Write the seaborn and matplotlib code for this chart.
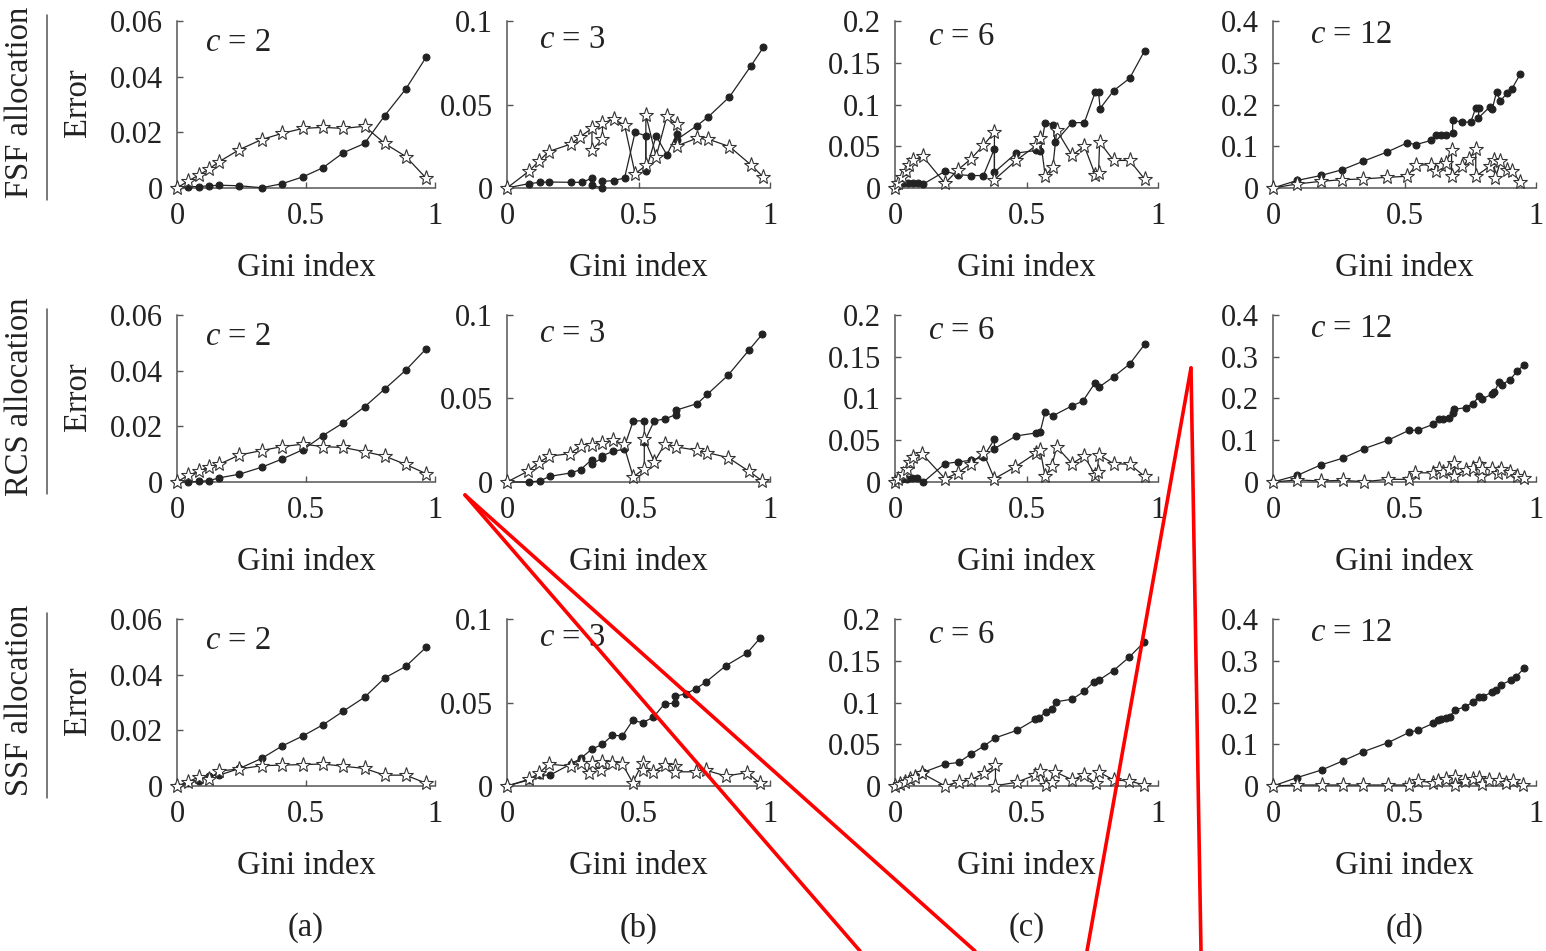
import matplotlib
matplotlib.use('Agg')
import matplotlib.pyplot as plt
from matplotlib.lines import Line2D
from matplotlib.ticker import FuncFormatter
import pandas as pd
import seaborn as sns

# ---- data (Gini index vs error) ----
GINI_C2 = [0, 0.043, 0.086, 0.125, 0.164, 0.242, 0.328, 0.406, 0.488, 0.566, 0.645, 0.727, 0.805, 0.887, 0.965]

fsf2_dot_y = [0, 0.0005, 0.0005, 0.0008, 0.001, 0.0008, 0.0001, 0.0015, 0.004, 0.0073, 0.0127, 0.016, 0.026, 0.0356, 0.0469]
fsf2_star_y = [0, 0.0025, 0.0047, 0.0069, 0.0095, 0.0138, 0.0174, 0.0196, 0.0214, 0.0218, 0.0214, 0.0222, 0.016, 0.0113, 0.0036]
rcs2_dot_y = [0, 0, 0.0002, 0.0005, 0.0015, 0.0028, 0.0053, 0.0082, 0.0116, 0.0167, 0.0213, 0.027, 0.0334, 0.0402, 0.0478]
rcs2_star_y = [0, 0.0024, 0.0039, 0.0055, 0.0064, 0.0097, 0.0113, 0.0127, 0.0136, 0.0127, 0.0124, 0.0109, 0.0093, 0.0063, 0.003]
ssf2_dot_y = [0, 0.001, 0.0019, 0.0037, 0.0039, 0.0063, 0.0099, 0.0143, 0.018, 0.022, 0.0269, 0.0319, 0.0388, 0.043, 0.0498]
ssf2_star_y = [0, 0.0015, 0.0033, 0.0025, 0.0054, 0.0061, 0.0073, 0.0075, 0.0077, 0.0079, 0.0071, 0.0063, 0.0039, 0.0039, 0.001]

fsf3_dot_x = [0, 0.082, 0.127, 0.158, 0.244, 0.285, 0.325, 0.325, 0.363, 0.363, 0.405, 0.447, 0.487, 0.528, 0.528, 0.567, 0.608, 0.646, 0.646, 0.722, 0.766, 0.846, 0.927, 0.975]
fsf3_dot_y = [0, 0.0026, 0.0034, 0.0036, 0.0034, 0.0034, 0.006, 0.0015, 0.0, 0.004, 0.0044, 0.006, 0.0333, 0.0313, 0.0103, 0.0311, 0.0198, 0.0323, 0.029, 0.0373, 0.0427, 0.0546, 0.073, 0.0843]
fsf3_star_x = [0, 0.082, 0.123, 0.158, 0.244, 0.278, 0.323, 0.323, 0.363, 0.363, 0.405, 0.447, 0.487, 0.528, 0.528, 0.567, 0.608, 0.646, 0.646, 0.722, 0.766, 0.846, 0.927, 0.975]
fsf3_star_y = [0, 0.0099, 0.0163, 0.0218, 0.0264, 0.0307, 0.0357, 0.0228, 0.0292, 0.0387, 0.0413, 0.0377, 0.0085, 0.0135, 0.0437, 0.0188, 0.043, 0.0383, 0.0252, 0.0298, 0.0292, 0.0248, 0.0139, 0.0065]
rcs3_dot_x = [0, 0.083, 0.124, 0.163, 0.242, 0.28, 0.322, 0.322, 0.363, 0.363, 0.404, 0.443, 0.48, 0.522, 0.522, 0.56, 0.601, 0.643, 0.643, 0.724, 0.761, 0.841, 0.92, 0.971]
rcs3_dot_y = [0, 0, 0.0006, 0.0034, 0.0054, 0.0074, 0.0134, 0.0106, 0.0145, 0.0158, 0.0184, 0.0196, 0.0366, 0.0366, 0.024, 0.0366, 0.0378, 0.0404, 0.043, 0.047, 0.0524, 0.064, 0.079, 0.0886]
rcs3_star_x = [0, 0.079, 0.121, 0.159, 0.239, 0.28, 0.322, 0.363, 0.404, 0.443, 0.48, 0.522, 0.522, 0.56, 0.601, 0.643, 0.724, 0.761, 0.841, 0.92, 0.971]
rcs3_star_y = [0, 0.0064, 0.0116, 0.0154, 0.017, 0.0214, 0.0224, 0.0234, 0.025, 0.0226, 0.003, 0.008, 0.026, 0.012, 0.023, 0.021, 0.019, 0.0176, 0.0146, 0.0064, 0.0006]
ssf3_dot_x = [0, 0.083, 0.124, 0.163, 0.242, 0.28, 0.322, 0.363, 0.401, 0.439, 0.478, 0.516, 0.557, 0.599, 0.637, 0.637, 0.679, 0.717, 0.755, 0.832, 0.913, 0.962]
ssf3_dot_y = [0, 0.0036, 0.0065, 0.0065, 0.0131, 0.0165, 0.022, 0.025, 0.0304, 0.03, 0.0393, 0.0379, 0.0413, 0.0492, 0.0496, 0.0536, 0.0552, 0.0581, 0.0621, 0.072, 0.0796, 0.0885]
ssf3_star_x = [0, 0.083, 0.121, 0.159, 0.242, 0.28, 0.312, 0.325, 0.357, 0.363, 0.401, 0.439, 0.478, 0.516, 0.516, 0.557, 0.599, 0.637, 0.637, 0.717, 0.755, 0.832, 0.913, 0.962]
ssf3_star_y = [0, 0.004, 0.0075, 0.0131, 0.0119, 0.0135, 0.0075, 0.0135, 0.0095, 0.0145, 0.0135, 0.0131, 0.002, 0.0139, 0.0095, 0.0085, 0.0125, 0.0119, 0.0085, 0.0085, 0.0095, 0.006, 0.008, 0.0016]

fsf6_dot_x = [0, 0.013, 0.032, 0.051, 0.07, 0.089, 0.108, 0.19, 0.239, 0.289, 0.336, 0.378, 0.378, 0.461, 0.537, 0.552, 0.571, 0.6, 0.609, 0.673, 0.72, 0.761, 0.774, 0.78, 0.831, 0.892, 0.949]
fsf6_dot_y = [0, 0.0028, 0.0056, 0.0056, 0.0056, 0.0056, 0.0048, 0.02, 0.016, 0.0149, 0.0149, 0.047, 0.0189, 0.0418, 0.045, 0.0442, 0.078, 0.076, 0.055, 0.0783, 0.0783, 0.1145, 0.1145, 0.0952, 0.1165, 0.1313, 0.1643]
fsf6_star_x = [0, 0.01, 0.025, 0.041, 0.055, 0.07, 0.105, 0.19, 0.239, 0.289, 0.336, 0.378, 0.378, 0.461, 0.537, 0.552, 0.571, 0.6, 0.615, 0.673, 0.72, 0.761, 0.774, 0.778, 0.831, 0.892, 0.949]
fsf6_star_y = [0, 0.0056, 0.0137, 0.0209, 0.027, 0.033, 0.0382, 0.0056, 0.0217, 0.035, 0.051, 0.0671, 0.01, 0.033, 0.051, 0.0602, 0.0149, 0.0249, 0.0691, 0.039, 0.0502, 0.016, 0.0177, 0.055, 0.033, 0.033, 0.0108]
rcs6_dot_x = [0, 0.013, 0.025, 0.044, 0.063, 0.082, 0.108, 0.19, 0.239, 0.289, 0.336, 0.378, 0.378, 0.461, 0.537, 0.552, 0.571, 0.6, 0.673, 0.714, 0.761, 0.774, 0.831, 0.892, 0.949]
rcs6_dot_y = [0, 0.002, 0.0032, 0.004, 0.0052, 0.0052, 0, 0.022, 0.024, 0.026, 0.03, 0.0512, 0.04, 0.0552, 0.0588, 0.06, 0.084, 0.0792, 0.0912, 0.0968, 0.1188, 0.1132, 0.126, 0.1412, 0.1648]
rcs6_star_x = [0, 0.013, 0.029, 0.044, 0.057, 0.07, 0.102, 0.19, 0.239, 0.289, 0.336, 0.378, 0.457, 0.537, 0.552, 0.571, 0.596, 0.615, 0.673, 0.72, 0.761, 0.77, 0.774, 0.831, 0.892, 0.949]
rcs6_star_y = [0, 0.004, 0.01, 0.016, 0.024, 0.03, 0.034, 0.004, 0.0108, 0.022, 0.0348, 0.004, 0.018, 0.0348, 0.038, 0.0068, 0.0192, 0.042, 0.022, 0.0312, 0.008, 0.012, 0.0328, 0.022, 0.0212, 0.0068]
ssf6_dot_x = [0, 0.013, 0.025, 0.038, 0.057, 0.076, 0.095, 0.108, 0.191, 0.242, 0.289, 0.337, 0.382, 0.462, 0.534, 0.547, 0.573, 0.598, 0.611, 0.674, 0.719, 0.757, 0.776, 0.831, 0.891, 0.948]
ssf6_dot_y = [0, 0.0012, 0.0032, 0.0052, 0.008, 0.0113, 0.0145, 0.0165, 0.0262, 0.0282, 0.0383, 0.0476, 0.0577, 0.0665, 0.0798, 0.081, 0.0891, 0.0927, 0.1008, 0.104, 0.1133, 0.125, 0.127, 0.1383, 0.1544, 0.1726]
ssf6_star_x = [0, 0.019, 0.038, 0.057, 0.076, 0.102, 0.191, 0.242, 0.289, 0.337, 0.382, 0.382, 0.462, 0.534, 0.551, 0.573, 0.598, 0.607, 0.674, 0.719, 0.763, 0.776, 0.831, 0.891, 0.948]
ssf6_star_y = [0, 0.002, 0.0052, 0.008, 0.0113, 0.0153, 0, 0.0052, 0.0073, 0.0153, 0.0246, 0.0004, 0.0044, 0.0133, 0.0181, 0.0012, 0.0052, 0.0173, 0.0073, 0.0133, 0.0032, 0.0165, 0.0073, 0.006, 0.0012]

fsf12_dot_x = [0, 0.091, 0.183, 0.264, 0.343, 0.433, 0.51, 0.544, 0.601, 0.62, 0.639, 0.657, 0.683, 0.683, 0.72, 0.752, 0.771, 0.783, 0.781, 0.824, 0.834, 0.85, 0.865, 0.89, 0.909, 0.941]
fsf12_dot_y = [0, 0.018, 0.03, 0.044, 0.064, 0.086, 0.108, 0.104, 0.114, 0.128, 0.126, 0.126, 0.132, 0.162, 0.158, 0.158, 0.192, 0.192, 0.168, 0.194, 0.19, 0.23, 0.208, 0.228, 0.238, 0.274]
fsf12_star_x = [0, 0.091, 0.183, 0.264, 0.343, 0.433, 0.51, 0.544, 0.601, 0.62, 0.639, 0.657, 0.679, 0.679, 0.72, 0.746, 0.771, 0.771, 0.824, 0.84, 0.846, 0.865, 0.89, 0.909, 0.941]
fsf12_star_y = [0, 0.0096, 0.016, 0.02, 0.0216, 0.0256, 0.028, 0.0544, 0.056, 0.04, 0.0544, 0.06, 0.0904, 0.028, 0.052, 0.0696, 0.0936, 0.028, 0.052, 0.068, 0.024, 0.064, 0.0424, 0.04, 0.0136]
rcs12_dot_x = [0, 0.093, 0.182, 0.265, 0.347, 0.437, 0.518, 0.55, 0.609, 0.631, 0.647, 0.669, 0.685, 0.688, 0.732, 0.762, 0.783, 0.796, 0.831, 0.841, 0.86, 0.869, 0.902, 0.927, 0.955]
rcs12_dot_y = [0, 0.016, 0.041, 0.057, 0.08, 0.1, 0.124, 0.124, 0.138, 0.15, 0.151, 0.154, 0.166, 0.174, 0.178, 0.188, 0.206, 0.199, 0.21, 0.215, 0.239, 0.233, 0.245, 0.265, 0.281]
rcs12_star_x = [0, 0.093, 0.182, 0.265, 0.347, 0.437, 0.518, 0.541, 0.609, 0.631, 0.647, 0.669, 0.688, 0.688, 0.732, 0.762, 0.783, 0.79, 0.796, 0.831, 0.854, 0.866, 0.902, 0.927, 0.955]
rcs12_star_y = [0, 0.005, 0.0024, 0.004, 0.0008, 0.0064, 0.0064, 0.022, 0.022, 0.03, 0.024, 0.032, 0.046, 0.014, 0.029, 0.033, 0.042, 0.014, 0.03, 0.032, 0.021, 0.032, 0.024, 0.014, 0.01]
ssf12_dot_x = [0, 0.091, 0.186, 0.265, 0.343, 0.438, 0.518, 0.552, 0.609, 0.628, 0.64, 0.657, 0.672, 0.691, 0.729, 0.76, 0.785, 0.798, 0.833, 0.848, 0.867, 0.905, 0.924, 0.956]
ssf12_dot_y = [0, 0.02, 0.0386, 0.06, 0.082, 0.104, 0.1285, 0.134, 0.15, 0.157, 0.161, 0.163, 0.166, 0.182, 0.189, 0.201, 0.214, 0.214, 0.225, 0.231, 0.243, 0.253, 0.261, 0.2835]
ssf12_star_x = [0, 0.091, 0.186, 0.265, 0.343, 0.438, 0.518, 0.552, 0.609, 0.628, 0.659, 0.691, 0.691, 0.729, 0.76, 0.783, 0.795, 0.823, 0.861, 0.886, 0.912, 0.949]
ssf12_star_y = [0, 0.0024, 0.0024, 0.0024, 0.0024, 0.0024, 0.0024, 0.012, 0.008, 0.012, 0.016, 0.0217, 0.0024, 0.012, 0.016, 0.02, 0.0056, 0.0137, 0.0137, 0.008, 0.012, 0.0024]

ROWS = ['FSF allocation', 'RCS allocation', 'SSF allocation']
C_VALUES = [2, 3, 6, 12]
PANEL_LABELS = ['(a)', '(b)', '(c)', '(d)']
YTICKS = [[0, 0.02, 0.04, 0.06], [0, 0.05, 0.1], [0, 0.05, 0.1, 0.15, 0.2], [0, 0.1, 0.2, 0.3, 0.4]]

# (dot_x, dot_y, star_x, star_y) per row, per column
PANELS = [
    [(GINI_C2, fsf2_dot_y, GINI_C2, fsf2_star_y), (fsf3_dot_x, fsf3_dot_y, fsf3_star_x, fsf3_star_y),
     (fsf6_dot_x, fsf6_dot_y, fsf6_star_x, fsf6_star_y), (fsf12_dot_x, fsf12_dot_y, fsf12_star_x, fsf12_star_y)],
    [(GINI_C2, rcs2_dot_y, GINI_C2, rcs2_star_y), (rcs3_dot_x, rcs3_dot_y, rcs3_star_x, rcs3_star_y),
     (rcs6_dot_x, rcs6_dot_y, rcs6_star_x, rcs6_star_y), (rcs12_dot_x, rcs12_dot_y, rcs12_star_x, rcs12_star_y)],
    [(GINI_C2, ssf2_dot_y, GINI_C2, ssf2_star_y), (ssf3_dot_x, ssf3_dot_y, ssf3_star_x, ssf3_star_y),
     (ssf6_dot_x, ssf6_dot_y, ssf6_star_x, ssf6_star_y), (ssf12_dot_x, ssf12_dot_y, ssf12_star_x, ssf12_star_y)],
]

# ---- style ----
sns.set_theme(style='white')
plt.rcParams['font.family'] = ['Liberation Serif', 'DejaVu Serif']
plt.rcParams['mathtext.fontset'] = 'custom'
plt.rcParams['mathtext.rm'] = 'Liberation Serif'
plt.rcParams['mathtext.it'] = 'Liberation Serif:italic'
FS = 22       # tick labels
FS_LAB = 23.5  # axis / row labels
INK = '#222222'
AX_INK = '#555555'

W, H = 1546, 951
fig = plt.figure(figsize=(W / 100, H / 100), dpi=100)
fig.patch.set_facecolor('white')

# axes boxes in pixels (left, right) per column and (top, bottom) per row
COL_PX = [(177, 435), (507, 770), (895, 1158), (1273, 1536)]
ROW_PX = [(21, 188), (315, 482), (619, 786)]
C_TEXT_POS = [(0.11, 0.87), (0.12, 0.885), (0.125, 0.905), (0.14, 0.92)]

fmt = FuncFormatter(lambda v, p: '%g' % v)

for r, (top, bot) in enumerate(ROW_PX):
    for c, (left, right) in enumerate(COL_PX):
        ax = fig.add_axes([left / W, 1 - bot / H, (right - left) / W, (bot - top) / H])
        dx, dy, sx, sy = PANELS[r][c]
        dots = pd.DataFrame({'gini': dx, 'err': dy})
        stars = pd.DataFrame({'gini': sx, 'err': sy})
        sns.lineplot(data=dots, x='gini', y='err', sort=False, estimator=None, ax=ax,
                     color=INK, linewidth=0.9, marker='o', markersize=5,
                     markeredgecolor=INK, markerfacecolor=INK, clip_on=False, zorder=3)
        sns.lineplot(data=stars, x='gini', y='err', sort=False, estimator=None, ax=ax,
                     color=INK, linewidth=0.9, marker='*', markersize=11,
                     markeredgecolor='#333333', markerfacecolor='white', markeredgewidth=0.8,
                     clip_on=False, zorder=4)
        yt = YTICKS[c]
        ax.set_xlim(0, 1.0)
        ax.set_ylim(0, yt[-1])
        ax.set_xticks([0, 0.5, 1])
        ax.set_yticks(yt)
        ax.xaxis.set_major_formatter(fmt)
        ax.yaxis.set_major_formatter(fmt)
        ax.tick_params(direction='in', length=4, width=1, color=AX_INK,
                       labelsize=FS, labelcolor=INK, pad=10,
                       left=True, bottom=True)
        for side in ['top', 'right']:
            ax.spines[side].set_visible(False)
        for side in ['left', 'bottom']:
            ax.spines[side].set_color(AX_INK)
            ax.spines[side].set_linewidth(1.1)
        ax.set_facecolor('white')
        ax.set_ylabel('')
        ax.set_xlabel('Gini index', fontsize=FS_LAB, color=INK)
        ax.xaxis.set_label_coords(0.5, -0.385)
        tx, ty = C_TEXT_POS[c]
        ax.text(tx, ty, '$c$ = %d' % C_VALUES[c], transform=ax.transAxes,
                fontsize=FS_LAB, color=INK, ha='left', va='center')

    # row label, fraction bar and "Error"
    mid = (top + bot) / 2 - 2
    fig.text(20 / W, 1 - mid / H, ROWS[r], rotation=90, ha='center', va='center',
             fontsize=FS_LAB, color=INK)
    fig.text(78 / W, 1 - mid / H, 'Error', rotation=90, ha='center', va='center',
             fontsize=FS_LAB, color=INK)
    fig.add_artist(Line2D([47 / W, 47 / W], [1 - (top - 6) / H, 1 - (bot + 12) / H],
                          transform=fig.transFigure, color=AX_INK, linewidth=1.1))

for c, (left, right) in enumerate(COL_PX):
    fig.text((left + right) / 2 / W, 1 - 928 / H, PANEL_LABELS[c], ha='center', va='center',
             fontsize=FS_LAB, color=INK)

# red annotation strokes overlaid on the figure
RED_STROKES = [((465, 495), (860, 951)), ((465, 495), (975, 951)),
               ((1191, 368), (1087, 951)), ((1191, 368), (1201, 951))]
for (x0, y0), (x1, y1) in RED_STROKES:
    fig.add_artist(Line2D([x0 / W, x1 / W], [1 - y0 / H, 1 - y1 / H],
                          transform=fig.transFigure, color='#ff0000', linewidth=2.6,
                          solid_capstyle='round', zorder=10))

fig.savefig('out.png', dpi=100, facecolor='white')
